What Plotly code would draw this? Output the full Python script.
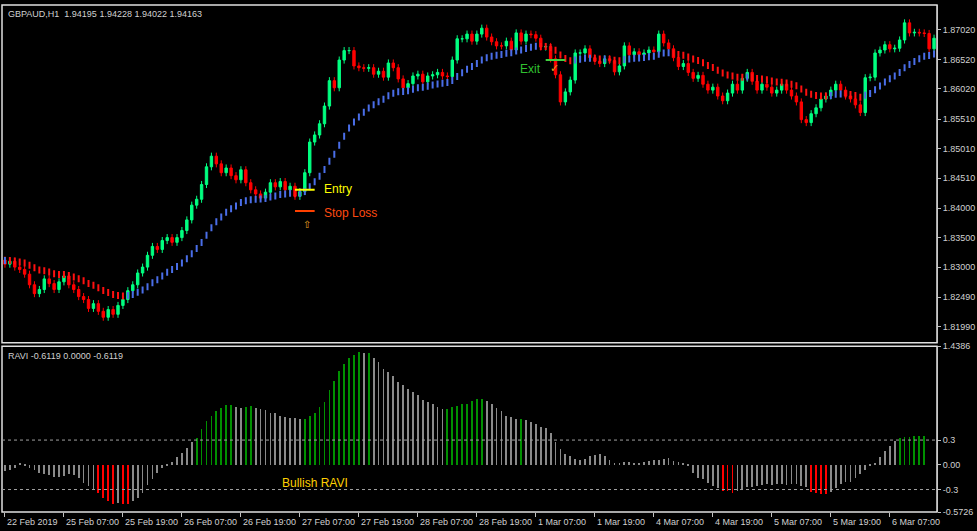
import plotly.graph_objects as go

closes = [
 1.8305,1.8310,1.8300,1.8296,1.8288,1.8270,1.8255,1.8262,1.8280,1.8272,1.8262,
 1.8275,1.8285,1.8270,1.8262,1.8250,1.8245,1.8230,1.8238,1.8225,1.8215,1.8228,1.8220,1.8235,
 1.8245,1.8260,1.8270,1.8290,1.8300,1.8320,1.8335,1.8330,1.8345,1.8350,1.8342,1.8350,
 1.8362,1.8380,1.8405,1.8415,1.8440,1.8470,1.8488,1.8475,1.8460,1.8468,1.8455,
 1.8448,1.8465,1.8443,1.8431,1.8424,1.8417,1.8427,1.8443,1.8436,1.8445,1.8431,1.8437,1.8420,1.8428,
 1.8460,1.8512,1.8524,1.8543,1.8573,1.8616,1.8604,1.8651,1.8667,1.8667,1.8641,1.8638,1.8637,1.8638,
 1.8627,1.8632,1.8622,1.8646,1.8638,1.8619,1.8604,1.8611,1.8624,1.8627,1.8614,1.8624,1.8626,1.8630,
 1.8624,1.8623,1.8651,1.8687,1.8687,1.8695,1.8683,1.8695,1.8705,1.8690,1.8682,1.8675,1.8675,1.8683,
 1.8668,1.8697,1.8683,1.8695,1.8694,1.8688,1.8673,1.8674,1.8653,1.8626,1.8580,1.8597,1.8617,1.8663,
 1.8663,1.8670,1.8655,1.8649,1.8645,1.8653,1.8650,1.8631,1.8641,1.8675,
 1.8660,1.8665,1.8660,1.8663,1.8668,1.8665,1.8695,1.8680,1.8670,1.8655,1.8640,1.8645,1.8630,1.8620,
 1.8625,1.8610,1.8600,1.8605,1.8590,1.8582,1.8595,1.8610,1.8600,1.8620,1.8630,1.8615,1.8600,1.8610,
 1.8605,1.8595,1.8600,1.8610,1.8600,1.8590,1.8580,1.8550,1.8545,1.8560,1.8570,1.8585,1.8590,1.8600,
 1.8610,1.8600,1.8590,1.8585,
 1.8575,1.8562,1.8621,1.8622,1.8663,1.8668,1.8677,1.8670,1.8671,1.8685,1.8714,1.8697,1.8698,1.8697,
 1.8696,1.8670,1.8688]
first_open = 1.8312
wick = 0.0006

ravi = [
 -0.08,-0.06,-0.04,0.01,-0.01,-0.04,-0.07,-0.10,-0.12,-0.13,-0.15,-0.15,-0.14,-0.12,-0.13,-0.16,
 -0.22,-0.26,-0.30,-0.34,-0.41,-0.44,-0.48,-0.47,-0.48,-0.48,-0.44,-0.40,-0.34,-0.25,-0.17,-0.10,
 -0.04,-0.01,0.03,0.09,0.14,0.20,0.27,0.32,0.43,0.53,0.59,0.65,0.69,0.72,0.72,0.70,0.69,0.70,0.71,
 0.69,0.67,0.66,0.63,0.62,0.59,0.58,0.57,0.56,0.55,0.55,0.59,0.63,0.70,0.76,0.90,1.02,1.13,1.22,
 1.29,1.33,1.36,1.35,1.35,1.29,1.24,1.16,1.12,1.08,1.00,0.96,0.92,0.88,0.84,0.78,0.76,0.73,0.70,
 0.68,0.68,0.70,0.71,0.73,
 0.74,0.77,0.79,0.80,0.77,0.73,0.69,0.65,0.59,0.58,0.55,0.55,0.54,0.52,0.49,0.45,0.44,0.38,0.28,
 0.19,0.13,0.10,0.07,0.06,0.07,0.10,0.12,0.13,0.10,0.05,0.02,0.02,0.03,0.03,0.02,0.02,0.03,0.04,
 0.05,0.06,0.07,0.08,0.04,0.03,0.01,-0.01,-0.10,-0.16,-0.18,-0.22,-0.26,-0.29,-0.32,-0.32,-0.34,
 -0.32,-0.30,-0.27,-0.27,-0.26,-0.25,-0.24,-0.25,-0.24,-0.24,-0.25,-0.23,-0.24,-0.26,-0.27,-0.33,
 -0.35,-0.36,-0.36,-0.33,-0.29,-0.24,-0.21,-0.21,-0.16,-0.12,-0.07,-0.02,0.02,0.09,0.17,0.22,0.29,
 0.32,0.33,0.34,0.35,0.35,0.35]

price_ticks = [1.87020,1.86520,1.86020,1.85510,1.85010,1.84510,1.84000,1.83500,1.83000,1.82490,1.81990]
ravi_ticks = [1.4386,0.3,0.0,-0.3,-0.5726]
ravi_tick_text = ["1.4386","0.3","0.00","-0.3","-0.5726"]
date_labels = ["22 Feb 2019","25 Feb 07:00","25 Feb 19:00","26 Feb 07:00","26 Feb 19:00",
 "27 Feb 07:00","27 Feb 19:00","28 Feb 07:00","28 Feb 19:00","1 Mar 07:00","1 Mar 19:00",
 "4 Mar 07:00","4 Mar 19:00","5 Mar 07:00","5 Mar 19:00","6 Mar 07:00"]
date_step = 12
ma_period = 20

n = len(closes)
idx = list(range(n))
opens = [first_open] + closes[:-1]
highs = [max(o, c) + wick for o, c in zip(opens, closes)]
lows = [min(o, c) - wick for o, c in zip(opens, closes)]

ma = []
alpha = 2 / (ma_period + 1)
m = first_open
for c in closes:
    m = m + alpha * (c - m)
    ma.append(m)
ma_col = ["#ff1010" if i > 0 and ma[i] < ma[i-1] else "#4a6ee8" for i in range(n)]

rcol = []
for i, v in enumerate(ravi):
    prev = ravi[i-1] if i > 0 else v
    if v > 0.3 and v >= prev:
        rcol.append("#009000")
    elif v < -0.3 and v <= prev:
        rcol.append("#ff0000")
    else:
        rcol.append("#8a8a8a")

fig = go.Figure()
fig.add_trace(go.Candlestick(x=idx, open=opens, high=highs, low=lows, close=closes,
    increasing=dict(line=dict(color="#00ff80", width=1), fillcolor="#00ff80"),
    decreasing=dict(line=dict(color="#ff0000", width=1), fillcolor="#ff0000"),
    whiskerwidth=0, xaxis="x", yaxis="y", showlegend=False, hoverinfo="skip"))
fig.add_trace(go.Scatter(x=idx, y=ma, mode="markers",
    marker=dict(symbol="line-ns", size=5, line=dict(color=ma_col, width=2)),
    xaxis="x", yaxis="y", showlegend=False, hoverinfo="skip"))
fig.add_trace(go.Bar(x=list(range(len(ravi))), y=ravi, marker=dict(color=rcol, line=dict(width=0)),
    width=0.16, xaxis="x2", yaxis="y2", showlegend=False, hoverinfo="skip"))

xr = [-0.6, n - 0.4]
tf = dict(size=9, color="#d0d0d0", family="Liberation Sans")
fig.update_layout(
    width=977, height=531, paper_bgcolor="black", plot_bgcolor="black",
    margin=dict(l=2, r=40, t=5, b=19, autoexpand=False), bargap=0,
    font=tf,
    xaxis=dict(domain=[0, 1], range=xr, showticklabels=False, showgrid=False, zeroline=False,
               rangeslider=dict(visible=False), anchor="y"),
    xaxis2=dict(domain=[0, 1], range=xr, showticklabels=False, showgrid=False, zeroline=False,
                anchor="y2", ticks="outside", tickvals=[i*date_step for i in range(len(date_labels))],
                ticklen=4, tickcolor="#c0c0c0"),
    yaxis=dict(domain=[0.334, 1], range=[1.81719, 1.87443], side="right", tickvals=price_ticks,
               ticktext=[f"{t:.5f}" for t in price_ticks], showgrid=False, zeroline=False,
               ticks="outside", ticklen=3, tickcolor="#c0c0c0", showline=True, linecolor="#808080",
               tickfont=tf, automargin=False),
    yaxis2=dict(domain=[0, 0.327], range=[-0.5726, 1.4386], side="right", tickvals=ravi_ticks,
                ticktext=ravi_tick_text, showgrid=False, zeroline=False, ticks="outside", ticklen=3,
                tickcolor="#c0c0c0", showline=True, linecolor="#808080", tickfont=tf, automargin=False),
)
for y0, y1 in [(0.334, 1), (0, 0.327)]:
    fig.add_shape(type="rect", xref="paper", yref="paper", x0=0, x1=1, y0=y0, y1=y1,
                  line=dict(color="#e0e0e0", width=1.5))
for lv in [0.3, -0.3]:
    fig.add_shape(type="line", xref="x2", yref="y2", x0=xr[0], x1=xr[1], y0=lv, y1=lv,
                  line=dict(color="#a0a0a0", width=1, dash="dot"))
fig.add_shape(type="line", xref="x", yref="y", x0=59, x1=63, y0=1.8431, y1=1.8431,
              line=dict(color="#ffff00", width=2))
fig.add_shape(type="line", xref="x", yref="y", x0=59, x1=63, y0=1.8395, y1=1.8395,
              line=dict(color="#ff4000", width=2))
fig.add_shape(type="line", xref="x", yref="y", x0=110, x1=114, y0=1.8651, y1=1.8651,
              line=dict(color="#40d040", width=2))
ann = [
    dict(x=64.5, y=1.8433, text="Entry", color="#ffff00", size=12),
    dict(x=64.5, y=1.8391, text="Stop Loss", color="#ff4a10", size=12),
    dict(x=104.3, y=1.8636, text="Exit", color="#30c030", size=12),
    dict(x=110.5, y=1.8638, text="✓", color="#e0a020", size=11),
    dict(x=60.2, y=1.8373, text="⇧", color="#e0a020", size=10),
]
for a in ann:
    fig.add_annotation(x=a["x"], y=a["y"], xref="x", yref="y", text=a["text"], showarrow=False,
                       xanchor="left", font=dict(color=a["color"], size=a["size"], family="Liberation Sans"))
fig.add_annotation(x=56, y=-0.22, xref="x2", yref="y2", text="Bullish RAVI", showarrow=False,
                   xanchor="left", font=dict(color="#ffd000", size=12, family="Liberation Sans"))
fig.add_annotation(x=0.004, y=0.997, xref="paper", yref="paper", xanchor="left", yanchor="top",
                   text="GBPAUD,H1  1.94195 1.94228 1.94022 1.94163", showarrow=False, font=tf)
fig.add_annotation(x=0.004, y=0.322, xref="paper", yref="paper", xanchor="left", yanchor="top",
                   text="RAVI -0.6119 0.0000 -0.6119", showarrow=False, font=tf)
for k, lab in enumerate(date_labels):
    fig.add_annotation(x=k*date_step, y=0, xref="x2", yref="paper", yshift=-3, text=lab,
                       showarrow=False, xanchor="left", yanchor="top", font=tf)

fig.write_html("out.html", config={"displayModeBar": False},
               post_script="document.body.style.margin='0';document.body.style.overflow='hidden';")
